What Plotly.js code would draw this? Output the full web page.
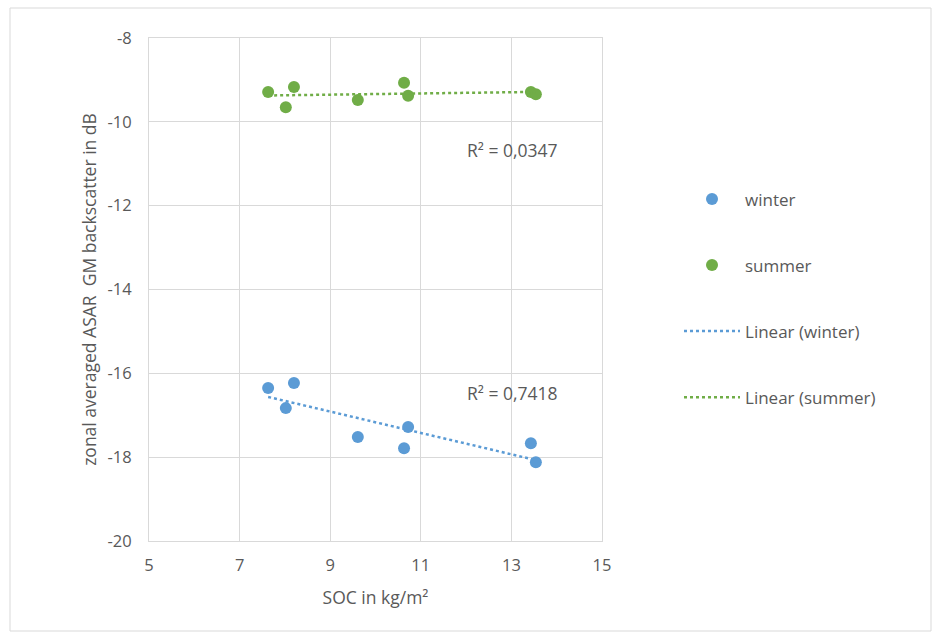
<!DOCTYPE html>
<html>
<head>
<meta charset="utf-8">
<script src="https://cdn.plot.ly/plotly-3.0.1.min.js"></script>
<style>body{margin:0;background:#fff}#chart{width:938px;height:639px}</style>
</head>
<body>
<div id="chart"></div>
<script>
// SOC in kg/m² (shared x for both seasons)
const socX = [7.63, 8.02, 8.2, 9.61, 10.63, 10.72, 13.43, 13.54];
// winter backscatter (dB)
const winterY = [-16.35, -16.83, -16.23, -17.52, -17.79, -17.28, -17.67, -18.12];
// summer backscatter (dB)
const summerY = [-9.29, -9.65, -9.17, -9.48, -9.07, -9.38, -9.29, -9.34];
const r2Labels = ['R² = 0,7418', 'R² = 0,0347'];
const xTicks = [5, 7, 9, 11, 13, 15];
const yTicks = [-20, -18, -16, -14, -12, -10, -8];

function linfit(x, y) {
  const n = x.length;
  const mx = x.reduce((a, b) => a + b, 0) / n;
  const my = y.reduce((a, b) => a + b, 0) / n;
  let sxy = 0, sxx = 0;
  for (let i = 0; i < n; i++) { sxy += (x[i] - mx) * (y[i] - my); sxx += (x[i] - mx) ** 2; }
  const b = sxy / sxx, a = my - b * mx;
  const xmin = Math.min(...x), xmax = Math.max(...x);
  return { x: [xmin, xmax], y: [a + b * xmin, a + b * xmax] };
}
const wFit = linfit(socX, winterY);
const sFit = linfit(socX, summerY);

const blue = '#5b9bd5', green = '#70ad47', txt = '#595959', grid = '#d9d9d9';
const font = 'Open Sans, Lato, sans-serif';

const traces = [
  { x: socX, y: winterY, mode: 'markers', type: 'scatter', name: 'winter', legendgroup: 'a',
    marker: { color: blue, size: 12 } },
  { x: socX, y: summerY, mode: 'markers', type: 'scatter', name: 'summer', legendgroup: 'b',
    marker: { color: green, size: 12 } },
  { x: wFit.x, y: wFit.y, mode: 'lines', type: 'scatter', name: 'Linear (winter)', legendgroup: 'c',
    line: { color: blue, width: 2.5, dash: 'dot' } },
  { x: sFit.x, y: sFit.y, mode: 'lines', type: 'scatter', name: 'Linear (summer)', legendgroup: 'd',
    line: { color: green, width: 2.5, dash: 'dot' } }
];

const layout = {
  width: 938, height: 639,
  margin: { l: 149, r: 336, t: 38, b: 98 },
  paper_bgcolor: '#fff', plot_bgcolor: '#fff',
  font: { family: font, color: txt, size: 16 },
  showlegend: true,
  legend: { x: 1.17, xanchor: 'left', y: 0.715, yanchor: 'top', tracegroupgap: 41,
    font: { size: 17, color: txt }, itemwidth: 56 },
  xaxis: { range: [5, 15], tickvals: xTicks, ticktext: xTicks.map(String),
    showgrid: true, gridcolor: grid, gridwidth: 1, zeroline: false,
    showline: true, linecolor: grid, linewidth: 1, mirror: true, ticks: '',
    ticklabelstandoff: 9, tickfont: { size: 16.5, color: txt },
    title: { text: 'SOC in kg/m²', font: { size: 17.5, color: txt }, standoff: 16 } },
  yaxis: { range: [-20, -8], tickvals: yTicks, ticktext: yTicks.map(String),
    showgrid: true, gridcolor: grid, gridwidth: 1, zeroline: false,
    showline: true, linecolor: grid, linewidth: 1, mirror: true, ticks: '',
    ticklabelstandoff: 13, tickfont: { size: 16.5, color: txt },
    title: { text: 'zonal averaged ASAR  GM backscatter in dB', font: { size: 17.5, color: txt }, standoff: 6 } },
  annotations: [
    { x: 11.98, y: -16.47, xref: 'x', yref: 'y', text: r2Labels[0], showarrow: false,
      xanchor: 'left', font: { size: 17.5, color: txt } },
    { x: 11.98, y: -10.67, xref: 'x', yref: 'y', text: r2Labels[1], showarrow: false,
      xanchor: 'left', font: { size: 17.5, color: txt } }
  ],
  shapes: [
    { type: 'rect', xref: 'paper', yref: 'paper',
      x0: (10 - 149) / 453, x1: (931 - 149) / 453,
      y0: (541 - 631) / 503, y1: (541 - 8) / 503,
      line: { color: '#d9d9d9', width: 1 }, fillcolor: 'rgba(0,0,0,0)', layer: 'below' }
  ]
};

Plotly.newPlot('chart', traces, layout, { displayModeBar: false, staticPlot: true });
</script>
</body>
</html>
